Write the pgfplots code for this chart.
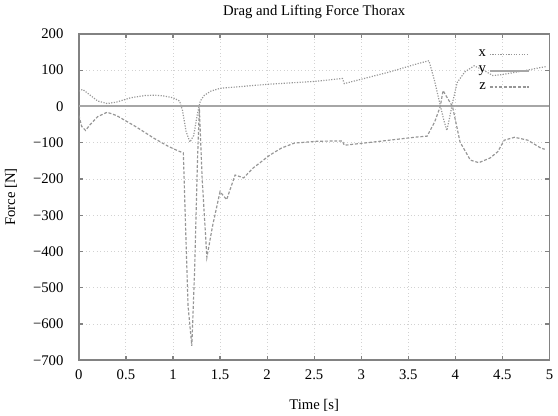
\documentclass[border=0pt]{standalone}
\usepackage{fontspec}
\setmainfont{Liberation Serif}
\usepackage{pgfplots}
\pgfplotsset{compat=1.18}
\definecolor{linegray}{RGB}{150,150,150}
\definecolor{framegray}{RGB}{130,130,130}

\begin{document}
\begin{tikzpicture}
\begin{axis}[
    scale only axis,
    width=320pt,
    height=222pt,
    xmin=0, xmax=5,
    ymin=-700, ymax=200,
    xtick={0,0.5,1,1.5,2,2.5,3,3.5,4,4.5,5},
    xticklabels={0,0.5,1,1.5,2,2.5,3,3.5,4,4.5,5},
    ytick={-700,-600,-500,-400,-300,-200,-100,0,100,200},
    yticklabels={−700,−600,−500,−400,−300,−200,−100,0,100,200},
    tick align=inside,
    tick style={framegray, line width=0.8pt},
    major tick length=3pt,
    axis line style={framegray, line width=1.2pt},
    grid=major,
    grid style={dotted, gray!35, line width=0.6pt},
    title={Drag and Lifting Force Thorax},
    title style={yshift=1pt},
    xlabel={Time [s]},
    ylabel={Force [N]},
    xlabel shift=6pt,
    ylabel shift=4pt,
    yticklabel style={xshift=-7pt},
    xticklabel style={yshift=-3pt},
    legend plot pos=right,
    legend cell align=right,
    legend style={draw=none, fill=none, at={(0.968,0.97)}, anchor=north east,
        row sep=1pt},
    legend image post style={xscale=1.55},
]
% x
\addplot[color=linegray, densely dotted, line width=0.8pt] coordinates {
    (0,42) (0.04,47) (0.1,35) (0.2,15) (0.3,8) (0.4,12) (0.55,24) (0.7,30)
    (0.8,31) (0.9,29) (1.0,24) (1.07,15) (1.1,-10) (1.14,-70) (1.18,-98)
    (1.22,-80) (1.26,-20) (1.29,15) (1.33,30) (1.4,42) (1.5,50) (2.0,61)
    (2.5,69) (2.8,77) (2.82,63) (3.0,75) (3.3,95) (3.6,118) (3.72,126)
    (3.78,70) (3.84,3) (3.88,-40) (3.91,-66) (3.94,-30) (3.97,10) (4.02,66)
    (4.1,95) (4.2,112) (4.3,100) (4.4,85) (4.5,88) (4.7,97) (4.9,107) (4.97,110)
};
% y
\addplot[color=gray!70, line width=1.3pt] coordinates {(0,0) (5,0)};
% z
\addplot[color=linegray, dash pattern=on 2pt off 1.2pt, line width=0.8pt] coordinates {
    (0,-25) (0.03,-55) (0.07,-66) (0.12,-50) (0.2,-28) (0.3,-16) (0.4,-25)
    (0.6,-55) (0.8,-88) (0.95,-110) (1.05,-122) (1.11,-128) (1.13,-300)
    (1.16,-550) (1.2,-660) (1.23,-450) (1.26,-150) (1.28,-5) (1.31,-200)
    (1.36,-416) (1.42,-330) (1.5,-235) (1.57,-257) (1.66,-189) (1.75,-197)
    (1.85,-170) (2.03,-134) (2.15,-115) (2.29,-101) (2.53,-96) (2.8,-95)
    (2.82,-107) (3.2,-96) (3.6,-84) (3.7,-82) (3.78,-43) (3.84,0) (3.87,44)
    (3.9,30) (3.97,0) (4.05,-98) (4.16,-148) (4.25,-155) (4.37,-142)
    (4.45,-125) (4.52,-93) (4.63,-85) (4.77,-93) (4.91,-115) (4.95,-118)
};
\legend{x, y, z}
\end{axis}
\end{tikzpicture}
\end{document}
